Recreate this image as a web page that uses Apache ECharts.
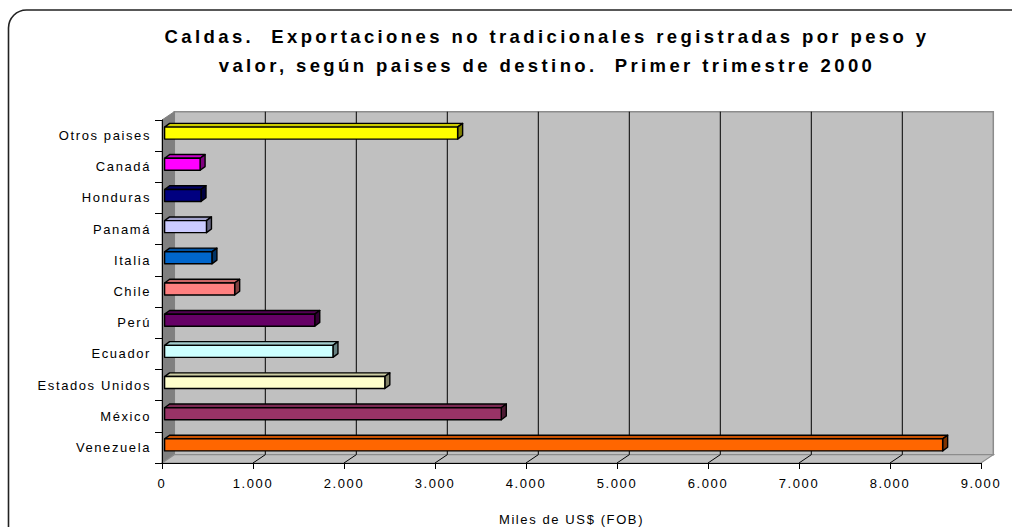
<!DOCTYPE html>
<html>
<head>
<meta charset="utf-8">
<script src="https://cdn.jsdelivr.net/npm/echarts@6/dist/echarts.min.js"></script>
<style>
html,body{margin:0;padding:0;background:#fff;overflow:hidden;}
#c{width:1012px;height:527px;}
#c text{letter-spacing:1.6px;white-space:pre;}
#c text[style*="bold"]{letter-spacing:3.4px;}
</style>
</head>
<body>
<div id="c"></div>
<script>
const categories = ['Venezuela','México','Estados Unidos','Ecuador','Perú','Chile','Italia','Panamá','Honduras','Canadá','Otros paises'];
const values = [8550, 3700, 2420, 1850, 1650, 770, 520, 460, 400, 390, 3220];
const barColors = ['#FF6600','#993366','#FFFFCC','#CCFFFF','#660066','#FF8080','#0066CC','#CCCCFF','#000080','#FF00FF','#FFFF00'];
const xTicks = [0, 1000, 2000, 3000, 4000, 5000, 6000, 7000, 8000, 9000];
const titleLines = ['Caldas.  Exportaciones no tradicionales registradas por peso y', 'valor, según paises de destino.  Primer trimestre 2000'];
const axisName = 'Miles de US$ (FOB)';

function shade(hex, f) {
  const n = parseInt(hex.slice(1), 16);
  const r = Math.round(((n >> 16) & 255) * f), g = Math.round(((n >> 8) & 255) * f), b = Math.round((n & 255) * f);
  return 'rgb(' + r + ',' + g + ',' + b + ')';
}
function fmt(v) { return String(v).replace(/\B(?=(\d{3})+(?!\d))/g, '.'); }

const DX = 12.3, DY = -8.3;

function renderWalls(params, api) {
  const cs = params.coordSys;
  const L = cs.x, R = cs.x + cs.width, T = cs.y, B = cs.y + cs.height;
  const children = [
    { type: 'polygon', shape: { points: [[L + DX, T + DY], [R + DX, T + DY], [R + DX, B + DY], [L + DX, B + DY]] },
      style: { fill: '#C0C0C0', stroke: '#8c8c8c', lineWidth: 1.5 } },
    { type: 'polygon', shape: { points: [[L, T], [L + DX, T + DY], [L + DX, B + DY], [L, B]] },
      style: { fill: '#808080', stroke: '#808080', lineWidth: 1 } },
    { type: 'polygon', shape: { points: [[L, B], [R, B], [R + DX, B + DY], [L + DX, B + DY]] },
      style: { fill: '#C0C0C0', stroke: '#8c8c8c', lineWidth: 1.2 } }
  ];
  xTicks.forEach(function (v) {
    if (v === xTicks[0] || v === xTicks[xTicks.length - 1]) return;
    const x = api.coord([v, 0])[0];
    children.push({ type: 'line', shape: { x1: x + DX, y1: T + DY, x2: x + DX, y2: B + DY }, style: { stroke: '#000', lineWidth: 1 } });
    children.push({ type: 'line', shape: { x1: x, y1: B, x2: x + DX, y2: B + DY }, style: { stroke: '#000', lineWidth: 1 } });
  });
  return { type: 'group', children: children };
}

function renderBar(params, api) {
  const v = api.value(0), idx = api.value(1);
  const p0 = api.coord([0, idx]), p1 = api.coord([v, idx]);
  const band = api.size([0, 1])[1];
  const h = band * 0.385, ox = 2.6, oy = -2.5, ddx = 5, ddy = -3.7;
  const x0 = p0[0] + ox, x1 = p1[0] + ox;
  const yT = p0[1] + oy - h / 2, yB = yT + h;
  const c = barColors[params.dataIndex];
  const st = { stroke: '#000', lineWidth: 1.4, lineJoin: 'round' };
  return {
    type: 'group',
    children: [
      { type: 'polygon', shape: { points: [[x0, yT], [x1, yT], [x1 + ddx, yT + ddy], [x0 + ddx, yT + ddy]] }, style: Object.assign({ fill: shade(c, 0.8) }, st) },
      { type: 'polygon', shape: { points: [[x1, yT], [x1 + ddx, yT + ddy], [x1 + ddx, yB + ddy], [x1, yB]] }, style: Object.assign({ fill: shade(c, 0.5) }, st) },
      { type: 'rect', shape: { x: x0, y: yT, width: x1 - x0, height: h }, style: Object.assign({ fill: c }, st) }
    ]
  };
}

const chart = echarts.init(document.getElementById('c'), null, { renderer: 'svg', width: 1012, height: 527 });
const font = "'Liberation Sans', Arial, sans-serif";
const titleFont = "bold 18.5px 'Liberation Sans', Arial, sans-serif";
chart.setOption({
  animation: false,
  backgroundColor: '#fff',
  grid: { left: 162, right: 31, top: 120, bottom: 64, containLabel: false, outerBoundsMode: 'none' },
  graphic: [
    { type: 'rect', shape: { x: 8.5, y: 10, width: 1040, height: 560, r: 18 }, style: { fill: 'none', stroke: '#222', lineWidth: 1.6 }, z: 0, silent: true },
    { type: 'text', x: 547, y: 36, style: { text: titleLines[0], fill: '#000', font: titleFont, textAlign: 'center', textVerticalAlign: 'middle' }, z: 10 },
    { type: 'text', x: 547, y: 65, style: { text: titleLines[1], fill: '#000', font: titleFont, textAlign: 'center', textVerticalAlign: 'middle' }, z: 10 }
  ],
  xAxis: {
    type: 'value', min: 0, max: 9000, interval: 1000, z: 10,
    axisLine: { show: true, onZero: false, lineStyle: { color: '#000', width: 1 } },
    axisTick: { show: true, length: 6, lineStyle: { color: '#000', width: 1 } },
    splitLine: { show: false },
    axisLabel: { color: '#000', fontSize: 13, fontFamily: font, margin: 14, formatter: fmt },
    name: axisName, nameLocation: 'middle', nameGap: 50,
    nameTextStyle: { color: '#000', fontSize: 13, fontFamily: font }
  },
  yAxis: {
    type: 'category', data: categories, z: 10,
    axisLine: { show: true, lineStyle: { color: '#000', width: 1 } },
    axisTick: { show: true, length: 7, alignWithLabel: false, lineStyle: { color: '#000', width: 1 } },
    splitLine: { show: false },
    axisLabel: { color: '#000', fontSize: 13, fontFamily: font, margin: 11, interval: 0 }
  },
  series: [
    { type: 'custom', coordinateSystem: 'cartesian2d', renderItem: renderWalls, data: [[0, 0]], z: 1, silent: true, encode: { x: 0, y: 1 } },
    { type: 'custom', coordinateSystem: 'cartesian2d', renderItem: renderBar, data: values.map(function (v, i) { return [v, i]; }), z: 2, silent: true, encode: { x: 0, y: 1 } }
  ]
});
</script>
</body>
</html>
